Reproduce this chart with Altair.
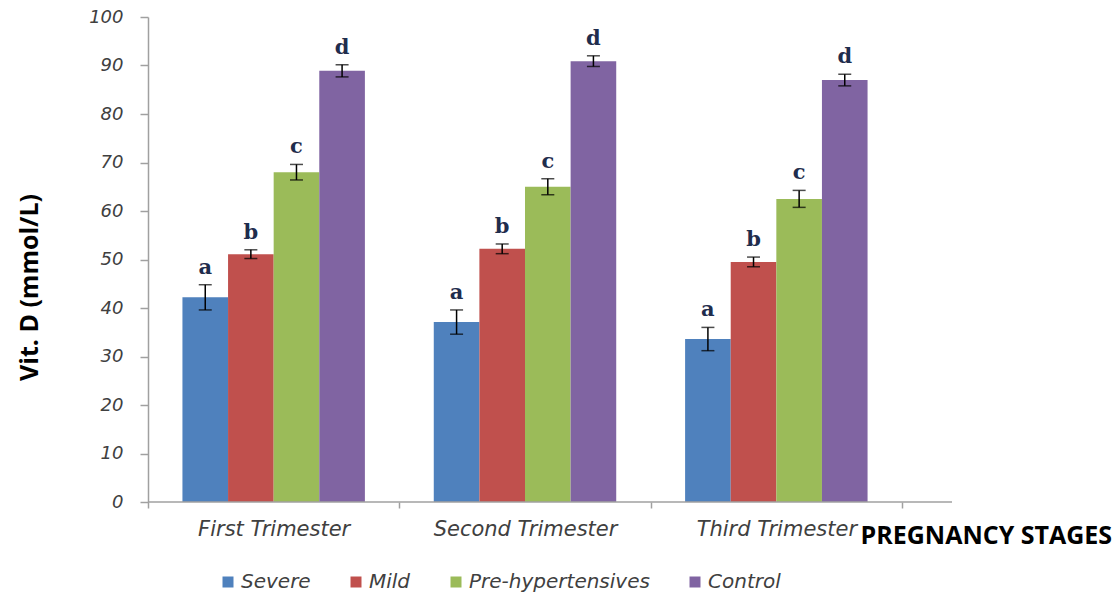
import altair as alt
import pandas as pd

# Vitamin D levels by pregnancy stage and blood-pressure group
stages = ["First Trimester", "Second Trimester", "Third Trimester"]
groups = ["Severe", "Mild", "Pre-hypertensives", "Control"]
colors = ["#4F81BD", "#C0504D", "#9BBB59", "#8064A2"]
letters = ["a", "b", "c", "d"]

severe = [42.2, 37.1, 33.6]
severe_err = [2.6, 2.5, 2.4]
mild = [51.1, 52.2, 49.5]
mild_err = [0.9, 1.0, 1.0]
pre_hyp = [68.0, 65.0, 62.5]
pre_hyp_err = [1.6, 1.65, 1.75]
control = [88.9, 90.9, 87.0]
control_err = [1.25, 1.1, 1.2]

means = [severe, mild, pre_hyp, control]
errs = [severe_err, mild_err, pre_hyp_err, control_err]

rows = []
for gi, g in enumerate(groups):
    for si, s in enumerate(stages):
        m = means[gi][si]
        e = errs[gi][si]
        rows.append({"stage": s, "group": g, "mean": m,
                     "lo": m - e, "hi": m + e, "letter": letters[gi]})
df = pd.DataFrame(rows)

W, H = 754, 485
AXIS_GRAY = "#A0A0A0"

# each stage fills a whole step so category ticks fall on the boundaries;
# the bar cluster is inset inside the step by the offset scale's padding
x_scale = alt.Scale(domain=stages, paddingInner=0, paddingOuter=0)
xo_scale = alt.Scale(domain=groups, paddingInner=0, paddingOuter=0.755)
y_scale = alt.Scale(domain=[0, 100], nice=False)

x_axis = alt.Axis(
    title="PREGNANCY STAGES", titleX=712, titleY=33, titleAlign="left",
    titleBaseline="middle", titleFont="Open Sans", titleFontSize=25,
    titleFontWeight="bold", titleColor="black",
    labelAngle=0, labelFont="DejaVu Sans", labelFontStyle="italic",
    labelFontSize=21, labelColor="#404040", labelPadding=10,
    labelLimit=400, domain=False, ticks=True, tickBand="extent",
    tickColor=AXIS_GRAY, tickSize=6, tickWidth=1.5,
)
y_axis = alt.Axis(
    title="Vit. D (mmol/L)", values=list(range(0, 101, 10)), grid=False,
    domainColor=AXIS_GRAY, domainWidth=1.5, tickColor=AXIS_GRAY,
    tickSize=8, tickWidth=1.5, labelFont="DejaVu Sans",
    labelFontStyle="italic", labelFontSize=18, labelColor="#404040",
    labelPadding=17, titleFont="Open Sans", titleFontSize=25,
    titleFontWeight="bold", titleColor="black", titleX=-119, titleY=270,
    titleAngle=270, titleBaseline="middle", titleAlign="center",
)

base = alt.Chart(df).encode(
    x=alt.X("stage:N", scale=x_scale, sort=stages, axis=x_axis),
    xOffset=alt.XOffset("group:N", scale=xo_scale, sort=groups),
)

bars = base.mark_bar().encode(
    y=alt.Y("mean:Q", scale=y_scale, axis=y_axis),
    color=alt.Color(
        "group:N", sort=groups,
        scale=alt.Scale(domain=groups, range=colors),
        legend=alt.Legend(
            title=None, orient="none", legendX=70, legendY=555,
            direction="horizontal", symbolType="square", symbolSize=121,
            symbolStrokeWidth=0, labelFont="DejaVu Sans",
            labelFontStyle="italic", labelFontSize=20, labelColor="#404040",
            labelLimit=400, columnPadding=35, labelOffset=3,
        ),
    ),
)

err_lines = base.mark_rule(color="black", strokeWidth=1.5).encode(
    y=alt.Y("lo:Q", scale=y_scale, axis=y_axis),
    y2="hi:Q",
)
cap_lo = base.mark_tick(color="black", orient="horizontal", size=13,
                        thickness=1.5).encode(
    y=alt.Y("lo:Q", scale=y_scale, axis=y_axis))
cap_hi = base.mark_tick(color="black", orient="horizontal", size=13,
                        thickness=1.5).encode(
    y=alt.Y("hi:Q", scale=y_scale, axis=y_axis))

marks = base.mark_text(font="DejaVu Serif", fontSize=21, fontWeight="bold",
                       color="#1f2d4d", dy=-11, baseline="alphabetic").encode(
    y=alt.Y("hi:Q", scale=y_scale, axis=y_axis),
    text="letter:N",
)

# x baseline, running a little past the last category
baseline = alt.Chart(pd.DataFrame({"v": [0]})).mark_rule(
    color=AXIS_GRAY, strokeWidth=1.5).encode(
    x=alt.value(0), x2=alt.value(W + 50), y=alt.value(H))

chart = alt.layer(bars, err_lines, cap_lo, cap_hi, marks, baseline).properties(
    width=W, height=H,
    autosize=alt.AutoSizeParams(type="none"),
    padding={"left": 148, "top": 17, "right": 216, "bottom": 90},
).configure_view(stroke=None)

chart.save("out.html", embed_options={"renderer": "svg", "actions": False})
